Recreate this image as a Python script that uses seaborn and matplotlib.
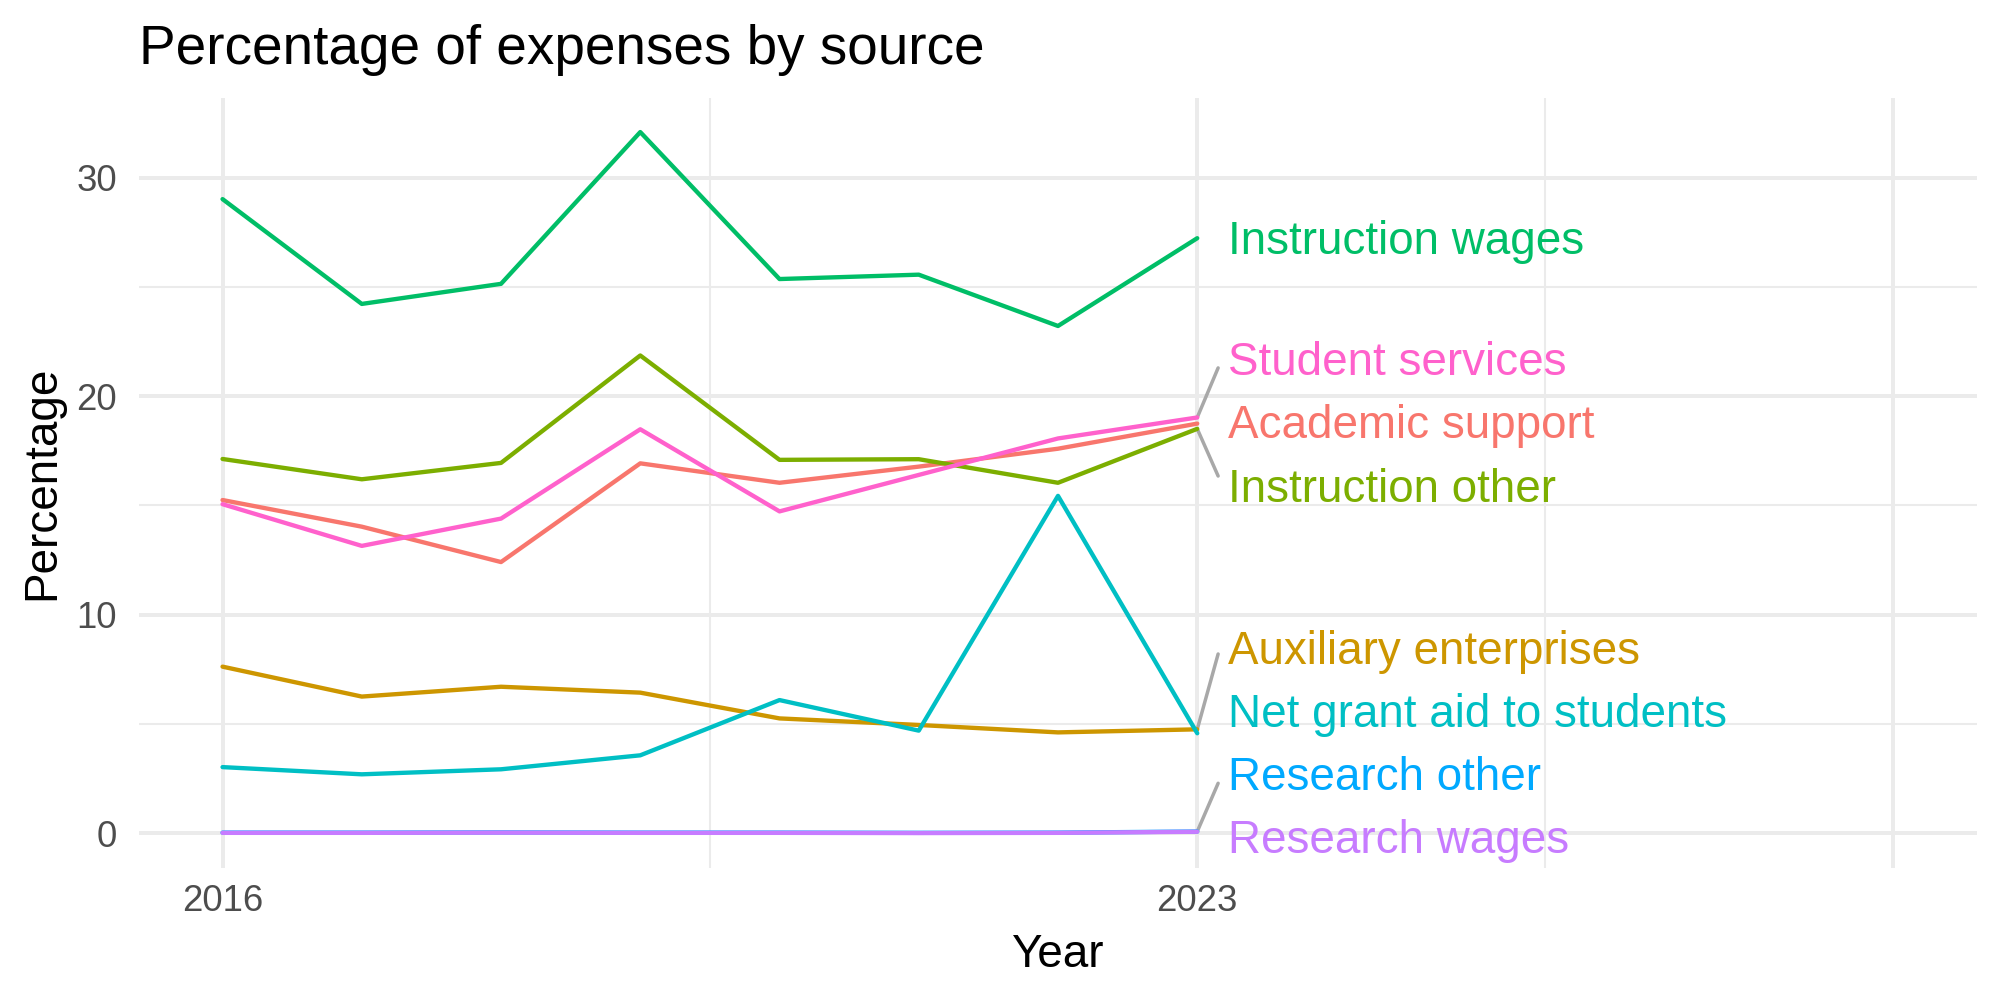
import numpy as np
import pandas as pd
import seaborn as sns
import matplotlib.pyplot as plt
from matplotlib.ticker import FixedLocator

# data (percent of expenses)
years = [2016, 2017, 2018, 2019, 2020, 2021, 2022, 2023]

academic_support = [15.25, 14.03, 12.41, 16.93, 16.04, 16.78, 17.60, 18.75]
auxiliary_enterprises = [7.62, 6.25, 6.70, 6.43, 5.25, 4.95, 4.61, 4.75]
instruction_other = [17.13, 16.20, 16.95, 21.87, 17.09, 17.12, 16.04, 18.51]
instruction_wages = [29.03, 24.23, 25.15, 32.10, 25.37, 25.57, 23.22, 27.24]
net_grant_aid = [3.02, 2.69, 2.92, 3.56, 6.09, 4.69, 15.44, 4.57]
research_other = [0.02, 0.02, 0.03, 0.02, 0.02, 0.01, 0.02, 0.07]
research_wages = [0.01, 0.01, 0.02, 0.01, 0.01, 0.00, 0.01, 0.06]
student_services = [15.06, 13.15, 14.40, 18.49, 14.73, 16.40, 18.07, 19.03]

sources = ["Academic support", "Auxiliary enterprises", "Instruction other",
           "Instruction wages", "Net grant aid to students", "Research other",
           "Research wages", "Student services"]
colors = ["#F8766D", "#CD9600", "#7CAE00", "#00BE67",
          "#00BFC4", "#00A9FF", "#C77CFF", "#FF61CC"]

series = [academic_support, auxiliary_enterprises, instruction_other,
          instruction_wages, net_grant_aid, research_other,
          research_wages, student_services]

df = pd.concat([pd.DataFrame({"Year": years, "Percentage": vals, "Source": name})
                for name, vals in zip(sources, series)], ignore_index=True)

# where the repelled labels ended up (label baseline y, segment end y or None)
label_x = 2023.22
seg_x = 2023.15
label_layout = {
    "Instruction wages": (26.52, None),
    "Student services": (20.96, 21.30),
    "Academic support": (18.07, None),
    "Instruction other": (15.18, 16.35),
    "Auxiliary enterprises": (7.75, 8.20),
    "Net grant aid to students": (4.87, None),
    "Research other": (1.97, 2.28),
    "Research wages": (-0.92, None),
}

sns.set_theme(style="white")
plt.rcParams["font.family"] = ["Liberation Sans", "DejaVu Sans"]
plt.rcParams["text.color"] = "black"
plt.rcParams["axes.labelcolor"] = "black"

fig = plt.figure(figsize=(8, 4), dpi=250)
ax = fig.add_axes([0.0695, 0.132, 0.919, 0.77])

pal = dict(zip(sources, colors))
sns.lineplot(data=df, x="Year", y="Percentage", hue="Source", hue_order=sources,
             palette=pal, linewidth=1.25, legend=False, ax=ax, zorder=3)

# labels with leader segments
for name, vals in zip(sources, series):
    ty, sy = label_layout[name]
    if sy is not None:
        ax.plot([2023.0, seg_x], [vals[-1], sy], color="#A8A8A8", lw=1.0,
                solid_capstyle="round", zorder=2)
    ax.text(label_x, ty, name, color=pal[name], fontsize=13.2,
            ha="left", va="baseline", zorder=4)

ax.set_xlim(2015.4, 2028.6)
ax.set_ylim(-1.6, 33.66)
ax.xaxis.set_major_locator(FixedLocator([2016, 2023, 2028]))
ax.set_xticklabels(["2016", "2023", ""])
ax.xaxis.set_minor_locator(FixedLocator([2019.5, 2025.5]))
ax.yaxis.set_major_locator(FixedLocator([0, 10, 20, 30]))
ax.yaxis.set_minor_locator(FixedLocator([5, 15, 25]))

ax.grid(which="major", color="#EBEBEB", lw=1.15, zorder=0)
ax.grid(which="minor", color="#EBEBEB", lw=0.58, zorder=0)
ax.set_axisbelow(True)
for s in ax.spines.values():
    s.set_visible(False)

ax.tick_params(which="both", length=0)
ax.tick_params(axis="x", labelsize=10.5, labelcolor="#4D4D4D", pad=4.5)
ax.tick_params(axis="y", labelsize=10.5, labelcolor="#4D4D4D", pad=6.3)

ax.set_xlabel("Year", fontsize=13.2, va="center", color="black")
ax.xaxis.set_label_coords(0.5, -(955 - 868) / 770)
ax.set_ylabel("Percentage", fontsize=13.2, va="center", color="black")
ax.yaxis.set_label_coords(-(139 - 42) / 1838, 0.5)

fig.text(139 / 2000, 1 - 64 / 1000, "Percentage of expenses by source",
         fontsize=15.8, ha="left", va="baseline", color="black")

fig.savefig("out.png", dpi=250, facecolor="white")
